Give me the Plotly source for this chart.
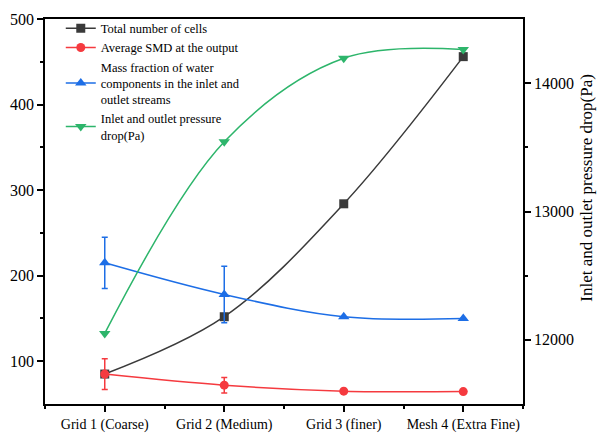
import plotly.graph_objects as go

categories = ["Grid 1 (Coarse)", "Grid 2 (Medium)", "Grid 3 (finer)", "Mesh 4 (Extra Fine)"]
cells = [85, 152, 284, 456]
smd = [85, 72, 65, 64.5]
smd_err = [18, 9, 0, 0]
mass_frac = [215, 178, 152, 150]
mass_err = [30, 33, 0, 0]
pressure = [12050, 13543, 14194, 14262]

left_ticks = [100, 200, 300, 400, 500]
right_ticks = [12000, 13000, 14000]

x = list(range(len(categories)))
font_family = "Liberation Serif, Times New Roman, serif"

fig = go.Figure()
fig.add_trace(go.Scatter(
    x=x, y=cells, name="Total number of cells", mode="lines+markers",
    line=dict(color="#3a3a3a", width=1.5, shape="spline"),
    marker=dict(symbol="square", size=9, color="#3a3a3a")))
fig.add_trace(go.Scatter(
    x=x, y=smd, name="Average SMD at the output", mode="lines+markers",
    line=dict(color="#f53a3f", width=1.5, shape="spline"),
    marker=dict(symbol="circle", size=9, color="#f53a3f"),
    error_y=dict(type="data", array=smd_err, color="#f53a3f", thickness=1.5, width=3)))
fig.add_trace(go.Scatter(
    x=x, y=mass_frac, name="Mass fraction of water<br>components in the inlet and<br>outlet streams",
    mode="lines+markers",
    line=dict(color="#1d6ee6", width=1.5, shape="spline"),
    marker=dict(symbol="triangle-up", size=10, color="#1d6ee6"),
    error_y=dict(type="data", array=mass_err, color="#1d6ee6", thickness=1.5, width=3)))
fig.add_trace(go.Scatter(
    x=x, y=pressure, name="Inlet and outlet pressure<br>drop(Pa)", mode="lines+markers",
    yaxis="y2",
    line=dict(color="#2db56b", width=1.5, shape="spline"),
    marker=dict(symbol="triangle-down", size=10, color="#2db56b")))

axis_common = dict(showline=True, linecolor="black", linewidth=1.5, showgrid=False,
                   zeroline=False, ticks="outside", tickcolor="black", tickwidth=1.5,
                   automargin=False,
                   tickfont=dict(family=font_family, size=16, color="black"))

fig.update_layout(
    width=597, height=435,
    margin=dict(l=45, r=74, t=19, b=31),
    paper_bgcolor="white", plot_bgcolor="white",
    font=dict(family=font_family, color="black"),
    showlegend=True,
    legend=dict(x=0.033, y=1.014, xanchor="left", yanchor="top",
                bgcolor="rgba(0,0,0,0)", font=dict(family=font_family, size=12.5, color="black"),
                tracegroupgap=0, itemwidth=30),
    xaxis=dict(**axis_common, range=[-0.5, 3.5], tickmode="array", tickvals=x,
               ticktext=categories, ticklen=6, mirror=True,
               minor=dict(tickmode="array", tickvals=[-0.5, 0.5, 1.5, 2.5, 3.5], ticklen=3,
                          ticks="outside", tickcolor="black", tickwidth=1.5)),
    yaxis=dict(**axis_common, range=[50, 500], tickmode="array",
               tickvals=left_ticks, ticktext=[str(v) for v in left_ticks], ticklen=6,
               minor=dict(tickmode="array", tickvals=[150, 250, 350, 450], ticklen=3,
                          ticks="outside", tickcolor="black", tickwidth=1.5)),
    yaxis2=dict(**axis_common, overlaying="y", side="right", range=[11500, 14500],
                tickmode="array", tickvals=right_ticks, ticktext=[str(v) for v in right_ticks],
                ticklen=6,
                minor=dict(tickmode="array", tickvals=[12500, 13500], ticklen=3,
                           ticks="outside", tickcolor="black", tickwidth=1.5)),
)
fig.update_xaxes(tickfont=dict(size=14))
fig.add_annotation(text="Inlet and outlet pressure drop(Pa)", textangle=-90,
                   xref="paper", yref="paper", x=1.131, y=0.561,
                   xanchor="center", yanchor="middle", borderpad=0,
                   showarrow=False, font=dict(family=font_family, size=17, color="black"))

fig.write_html("out.html", config={"displayModeBar": False},
               post_script="document.body.style.margin='0';document.body.style.padding='0';")
